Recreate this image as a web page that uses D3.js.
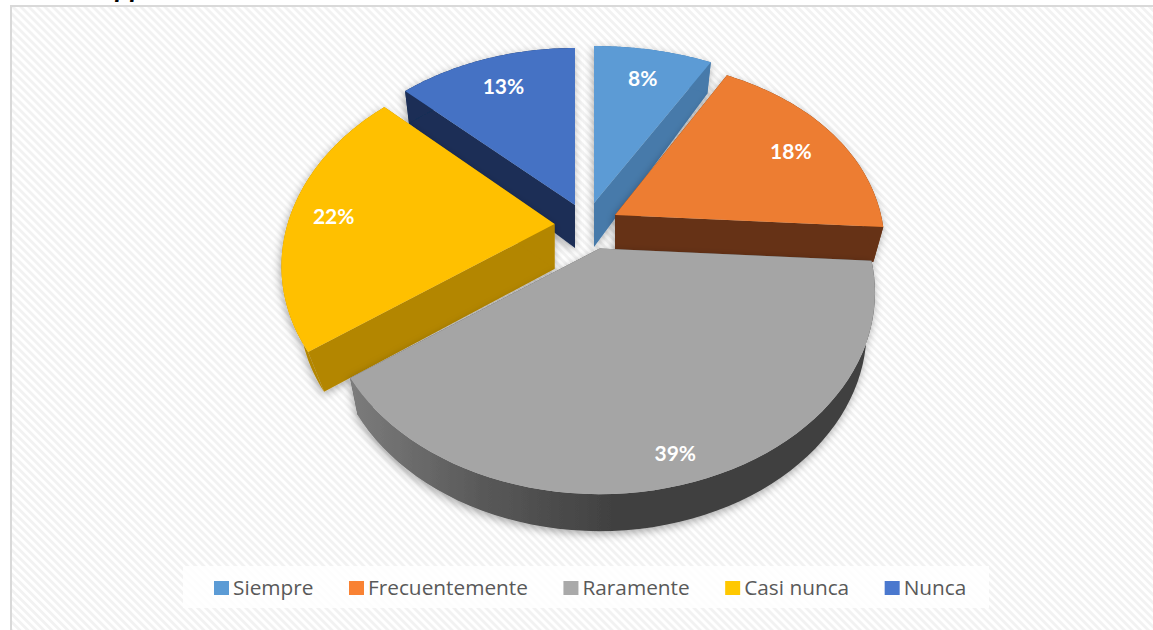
<!DOCTYPE html>
<html><head><meta charset="utf-8">
<style>html,body{margin:0;padding:0;background:#fff;overflow:hidden}svg{display:block}</style>
<script src="https://cdn.jsdelivr.net/npm/d3@7/dist/d3.min.js"></script>
</head><body>
<script>
const categories = ["Siempre","Frecuentemente","Raramente","Casi nunca","Nunca"];
const values = [8,18,39,22,13];
const labels = ["8%","18%","39%","22%","13%"];
const topColors = ["#5B9BD5","#ED7D31","#A5A5A5","#FFC000","#4472C4"];
const wallColors = ["#467AAA","#663214","#555555","#B38600","#1A2E56"];
const legendColors = ["#5B9BD5","#F98233","#A9A9A9","#FFC800","#4A78CE"];
// exploded placement of each slice and its look in the pseudo-3D view
const slicePlacement = [
 {ox:594,oy:203,R:268,px:.12,py:.219,tilt:.714,h:44,kx:.97,ky:1.09,lr:.78,nx:1,ny:0},
 {ox:615,oy:215,R:266,px:.166,py:.219,tilt:.714,h:35,kx:.963,ky:1,lr:.74,nx:13,ny:-1},
 {ox:599.6,oy:248.5,R:268.7,px:.219,py:.219,tilt:.714,h:37,kx:.97,ky:1,lr:.86,nx:-3,ny:12},
 {ox:554.5,oy:224,R:267,px:.21,py:.1915,tilt:.7236,h:45,kx:.935,ky:.96,lr:.83,nx:-2,ny:3},
 {ox:575,oy:205,R:268,px:.219,py:.219,tilt:.714,h:43,kx:.977,ky:1.09,lr:.79,nx:1,ny:1}];
const drawOrder = [0,4,1,3,2];
const W=1153,H=630;

const svg=d3.select("body").append("svg").attr("width",W).attr("height",H);
const defs=svg.append("defs");
const pat=defs.append("pattern").attr("id","hatch").attr("width",5.66).attr("height",5.66)
  .attr("patternUnits","userSpaceOnUse").attr("patternTransform","rotate(45)");
pat.append("rect").attr("width",5.66).attr("height",5.66).attr("fill","#fff");
pat.append("rect").attr("width",5.66).attr("height",2.83).attr("fill","#F2F2F2");
const fl=defs.append("filter").attr("id","shadow").attr("x","-20%").attr("y","-20%").attr("width","140%").attr("height","140%");
fl.append("feDropShadow").attr("dx",-1).attr("dy",3).attr("stdDeviation",4).attr("flood-color","#000").attr("flood-opacity",.33);
const grad=defs.append("linearGradient").attr("id","grayWall").attr("gradientUnits","userSpaceOnUse")
  .attr("x1",350).attr("x2",875).attr("y1",0).attr("y2",0);
[[0,"#7C7C7C"],[.25,"#595959"],[.5,"#414141"],[1,"#404040"]].forEach(d=>grad.append("stop").attr("offset",d[0]).attr("stop-color",d[1]));

svg.append("text").attr("x",115).attr("y",-3.5).attr("font-family","Lato").attr("font-weight",700).attr("font-style","italic").attr("font-size",28).attr("fill","#000").text("pp");
svg.append("rect").attr("x",11).attr("y",6).attr("width",W).attr("height",H).attr("fill","url(#hatch)").attr("stroke","#D9D9D9").attr("stroke-width",2);

const pie=d3.pie().sort(null).value(d=>d)(values);
const proj=(p,a,r,bottom)=>{
  const X=r*Math.sin(a),Y=-r*Math.cos(a),f=1/(1-p.py*Y),fx=1/(1-p.px*Y);
  const kx=bottom?p.kx:1,ky=bottom?p.ky:1,dz=bottom?p.h:0;
  return [p.ox+p.R*X*fx*kx,p.oy+dz+p.R*p.tilt*Y*f*ky];
};
const line=d3.line();
const arcAngles=(a0,a1)=>d3.range(0,61).map(i=>a0+(a1-a0)*i/60);

drawOrder.forEach(i=>{
  const p=slicePlacement[i],s=pie[i],g=svg.append("g").attr("filter","url(#shadow)");
  const as=arcAngles(s.startAngle,s.endAngle);
  const wall=i===2?"url(#grayWall)":wallColors[i];
  // radial walls
  [s.startAngle,s.endAngle].forEach(a=>{
    g.append("path").attr("fill",wall==="url(#grayWall)"?"#555":wall).attr("d",line([proj(p,a,0,false),proj(p,a,1,false),proj(p,a,1,true),proj(p,a,0,true)])+"Z");
  });
  // outer wall
  g.append("path").attr("fill",wall).attr("d",line(as.map(a=>proj(p,a,1,false)).concat(as.slice().reverse().map(a=>proj(p,a,1,true))))+"Z");
  // top face
  g.append("path").attr("fill",topColors[i]).attr("d",line([proj(p,0,0,false)].concat(as.map(a=>proj(p,a,1,false))))+"Z");
});

// data labels
pie.forEach((s,i)=>{
  const p=slicePlacement[i],c=proj(p,(s.startAngle+s.endAngle)/2,p.lr,false);
  svg.append("text").attr("x",c[0]+p.nx).attr("y",c[1]+p.ny).attr("dy","0.35em").attr("text-anchor","middle")
    .attr("font-family","Lato").attr("font-weight",700).attr("font-size",21).attr("fill","#fff").text(labels[i]);
});

// legend
svg.append("rect").attr("x",183).attr("y",566).attr("width",806).attr("height",42).attr("fill","#fff").attr("fill-opacity",.85);
let lx=214;
categories.forEach((c,i)=>{
  svg.append("rect").attr("x",lx).attr("y",581).attr("width",15).attr("height",14).attr("fill",legendColors[i]);
  const t=svg.append("text").attr("x",lx+19).attr("y",595).attr("font-family","Open Sans").attr("font-size",20.8).attr("fill","#595959").text(c);
  lx+=19+t.node().getComputedTextLength()+35.5;
});
</script></body></html>
